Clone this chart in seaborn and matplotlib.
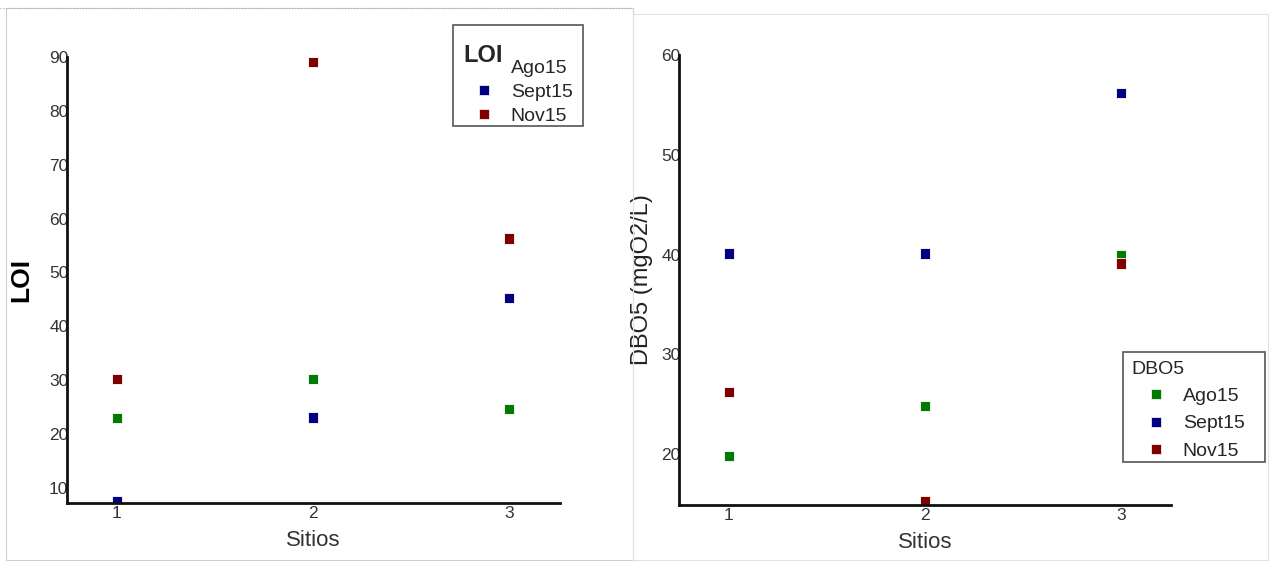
import matplotlib
matplotlib.use("Agg")
import matplotlib.pyplot as plt
from matplotlib.lines import Line2D
from matplotlib.patches import Rectangle
import seaborn as sns
import pandas as pd

sns.set_style("white")
plt.rcParams["font.family"] = ["Liberation Sans", "DejaVu Sans"]

sitios = [1, 2, 3]
meses = ["Ago15", "Sept15", "Nov15"]
loi_ago = [23.0, 30.2, 24.6]
loi_sept = [7.5, 23.1, 45.2]
loi_nov = [30.2, 89.1, 56.3]
dbo_ago = [19.8, 24.8, 39.9]
dbo_sept = [40.1, 40.1, 56.2]
dbo_nov = [26.2, 15.3, 39.1]

colores = {"Ago15": "#007a00", "Sept15": "#000080", "Nov15": "#800000"}


def tabla(ago, sept, nov):
    filas = []
    for mes, vals in zip(meses, [ago, sept, nov]):
        for s, v in zip(sitios, vals):
            filas.append({"Sitios": s, "valor": v, "mes": mes})
    return pd.DataFrame(filas)


df_loi = tabla(loi_ago, loi_sept, loi_nov)
df_dbo = tabla(dbo_ago, dbo_sept, dbo_nov)

W, H = 1274, 563
fig = plt.figure(figsize=(W / 100, H / 100), dpi=100)
fig.patch.set_facecolor("white")


def rect_px(x0, y0, x1, y1, **kw):
    fig.add_artist(Rectangle((x0 / W, 1 - y1 / H), (x1 - x0) / W, (y1 - y0) / H,
                             transform=fig.transFigure, fill=False, **kw))


# panel frames
rect_px(6, 8, 633, 560, edgecolor="#d0d0d0", linewidth=0.8)
fig.add_artist(Line2D([0, 633 / W], [1 - 8 / H, 1 - 8 / H], transform=fig.transFigure,
                      color="#a8a8a8", linewidth=0.8, linestyle=":"))
rect_px(633, 14, 1268, 560, edgecolor="#e2e2e2", linewidth=0.8)


def axes_px(x0, y0, x1, y1):
    return fig.add_axes([x0 / W, 1 - y1 / H, (x1 - x0) / W, (y1 - y0) / H])


def estilo(ax, ylabel, bold, lsize, lpad):
    for side in ["top", "right"]:
        ax.spines[side].set_visible(False)
    for side in ["left", "bottom"]:
        ax.spines[side].set_color("#111111")
        ax.spines[side].set_linewidth(2.0)
    ax.set_xticks(sitios)
    ax.tick_params(axis="both", length=0, labelsize=12.5, labelcolor="#333333")
    ax.tick_params(axis="y", pad=-1)
    ax.tick_params(axis="x", pad=2)
    ax.set_xlabel("Sitios", fontsize=16, color="#333333", labelpad=7)
    ax.set_ylabel(ylabel, fontsize=lsize, color="black" if bold else "#222222",
                  fontweight="bold" if bold else "normal", labelpad=lpad)
    ax.set_facecolor("white")


def handles(omit=None):
    hs = []
    for m in meses:
        hs.append(Line2D([], [], marker="s", linestyle="", markersize=7,
                         markerfacecolor=colores[m], markeredgecolor="white",
                         markeredgewidth=0.5, alpha=0 if m == omit else 1))
    return hs


def px_to_axes(ax, x, y):
    # figure pixel (from top-left) -> axes fraction
    inv = ax.transAxes.inverted()
    return tuple(inv.transform(fig.transFigure.transform((x / W, 1 - y / H))))


# LOI panel
ax1 = axes_px(67, 57, 560, 503)
sns.scatterplot(data=df_loi, x="Sitios", y="valor", hue="mes", palette=colores,
                marker="s", s=55, edgecolor="white", linewidth=0.6, legend=False, ax=ax1)
ax1.set_xlim(0.745, 3.26)
ax1.set_ylim(7.2, 89.8)
ax1.set_yticks([10, 20, 30, 40, 50, 60, 70, 80, 90])
estilo(ax1, "LOI", True, 19, 11)
leg1 = ax1.legend(handles(omit="Ago15"), meses, title="LOI", loc="upper left",
                  bbox_to_anchor=px_to_axes(ax1, 453, 33), borderaxespad=0, frameon=False,
                  fontsize=14, title_fontsize=17, handlelength=2.06, handletextpad=0.36,
                  labelspacing=0.32, borderpad=0.55, alignment="left")
leg1.get_title().set_fontweight("bold")
leg1._legend_box.sep = -5
rect_px(453, 25, 583, 126, edgecolor="#555555", linewidth=1.2, zorder=5)

# DBO5 panel
ax2 = axes_px(679, 55, 1171, 505)
sns.scatterplot(data=df_dbo, x="Sitios", y="valor", hue="mes", palette=colores,
                marker="s", s=55, edgecolor="white", linewidth=0.6, legend=False, ax=ax2)
ax2.set_xlim(0.745, 3.255)
ax2.set_ylim(14.9, 59.7)
ax2.set_yticks([20, 30, 40, 50, 60])
estilo(ax2, "DBO5 (mgO2/L)", False, 17, 6)
leg2 = ax2.legend(handles(), meses, title="DBO5", loc="upper left",
                  bbox_to_anchor=px_to_axes(ax2, 1123, 352), borderaxespad=0, frameon=False,
                  fontsize=14, title_fontsize=14, handlelength=2.47, handletextpad=0.15,
                  labelspacing=0.5, borderpad=0.45, alignment="left")
leg2.set_clip_on(False)
rect_px(1123, 352, 1265, 462, edgecolor="#555555", linewidth=1.2, zorder=5)

fig.savefig("out.png", dpi=100, facecolor="white")
